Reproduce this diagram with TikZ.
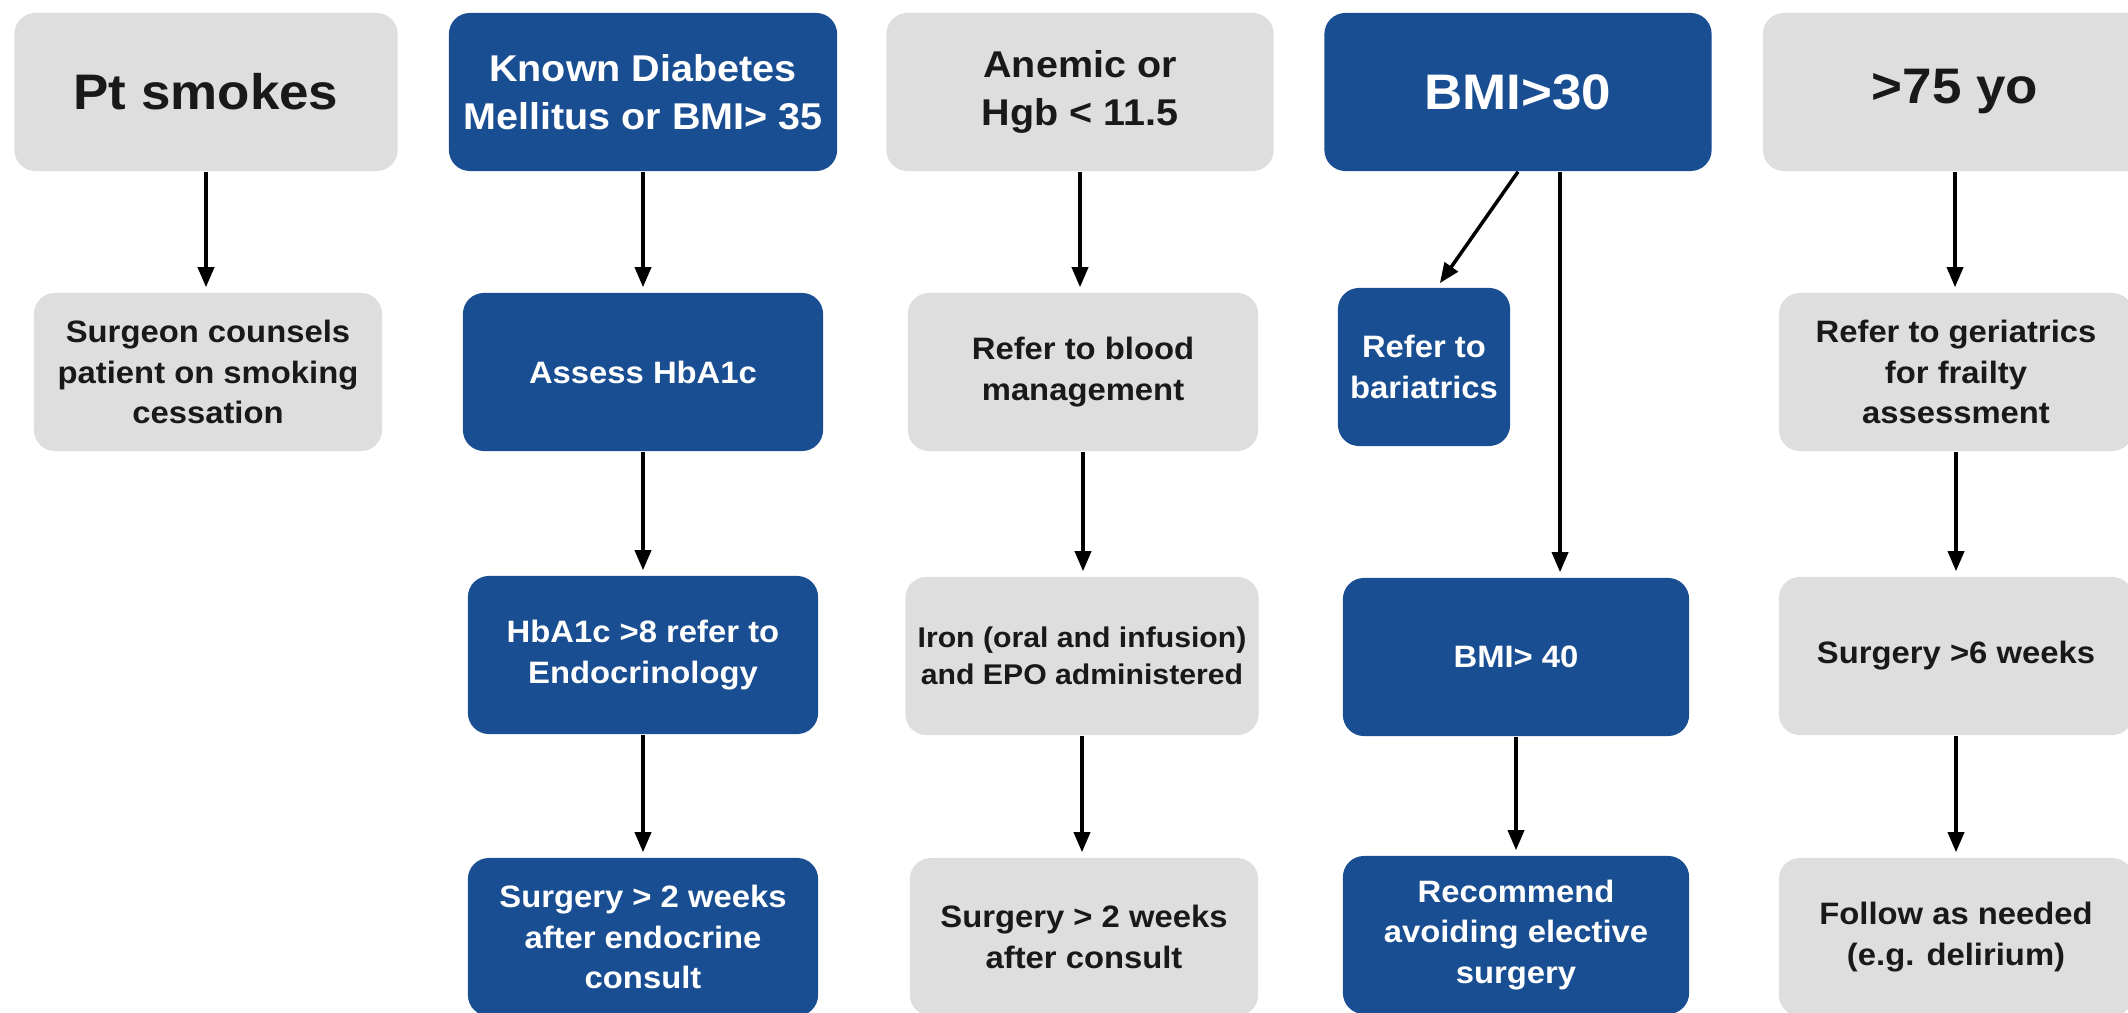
\documentclass[tikz,border=0pt]{standalone}
\usepackage{fontspec}
\usetikzlibrary{arrows.meta}
\newfontfamily\hfont{Liberation Sans}[FakeStretch=1.06]
\newcommand\myTitleFont{\hfont\bfseries\fontsize{14.2}{17}\selectfont}
\newcommand\myHeadFont{\hfont\bfseries\fontsize{10.6}{13.66}\selectfont}
\newcommand\myBodyFont{\hfont\bfseries\fontsize{8.8}{11.6}\selectfont}
\newcommand\myIronFont{\hfont\bfseries\fontsize{8.1}{10.45}\selectfont}
\definecolor{boxblue}{RGB}{26,78,146}
\definecolor{boxgrey}{RGB}{222,222,222}
\definecolor{textdark}{RGB}{25,25,25}
\tikzset{
  box/.style={rounded corners=0.21cm, minimum height=1.58cm, align=center, inner sep=0pt},
  greybox/.style={box, fill=boxgrey, text=textdark},
  bluebox/.style={box, fill=boxblue, text=white},
  arr/.style={line width=1pt, draw=black, -{Triangle[length=0.2cm,width=0.16cm]}, shorten >=0.05cm},
}
\begin{document}
\begin{tikzpicture}[x=0.01cm, y=-0.01cm]
\useasboundingbox (0,0) rectangle (2128,1013);
\clip (0,0) rectangle (2128,1013);
\fill[white] (0,0) rectangle (2128,1013);

% Row 1
\node[greybox, minimum width=3.83cm, font=\myTitleFont] (ps) at (206,92) {Pt smokes};
\node[bluebox, minimum width=3.88cm, font=\myHeadFont] (dm) at (643,92) {Known Diabetes\\Mellitus or BMI> 35};
\node[greybox, minimum width=3.87cm, font=\myHeadFont] (an) at (1080,92) {Anemic or\\Hgb < 11.5};
\node[bluebox, minimum width=3.87cm, font=\myTitleFont] (b30) at (1518,92) {BMI>30};
\node[greybox, minimum width=3.84cm, font=\myTitleFont] (age) at (1955,92) {>75 yo};

% Row 2
\node[greybox, minimum width=3.48cm, font=\myBodyFont] (sc) at (208,372) {Surgeon counsels\\patient on smoking\\cessation};
\node[bluebox, minimum width=3.60cm, font=\myBodyFont] (ha) at (643,372) {Assess HbA1c};
\node[greybox, minimum width=3.50cm, font=\myBodyFont] (rb) at (1083,372) {Refer to blood\\management};
\node[bluebox, minimum width=1.72cm, font=\myBodyFont] (bar) at (1424,367) {Refer to\\bariatrics};
\node[greybox, minimum width=3.54cm, font=\myBodyFont] (ger) at (1956,372) {Refer to geriatrics\\for frailty\\assessment};

% Row 3
\node[bluebox, minimum width=3.50cm, font=\myBodyFont] (h8) at (643,655) {HbA1c >8 refer to\\Endocrinology};
\node[greybox, minimum width=3.53cm, font=\myIronFont] (ir) at (1082,656) {Iron (oral and infusion)\\and EPO administered};
\node[bluebox, minimum width=3.46cm, font=\myBodyFont] (b40) at (1516,657) {BMI> 40};
\node[greybox, minimum width=3.54cm, font=\myBodyFont] (s6) at (1956,656) {Surgery >6 weeks};

% Row 4
\node[bluebox, minimum width=3.50cm, font=\myBodyFont] (se) at (643,937) {Surgery > 2 weeks\\after endocrine\\consult};
\node[greybox, minimum width=3.48cm, font=\myBodyFont] (sa) at (1084,937) {Surgery > 2 weeks\\after consult};
\node[bluebox, minimum width=3.46cm, font=\myBodyFont] (rec) at (1516,935) {Recommend\\avoiding elective\\surgery};
\node[greybox, minimum width=3.54cm, font=\myBodyFont] (fol) at (1956,937) {Follow as needed\\(e.g. delirium)};

% Arrows
\draw[arr] (ps.south) -- (ps.south |- sc.north);
\draw[arr] (dm.south) -- (dm.south |- ha.north);
\draw[arr] (ha.south) -- (ha.south |- h8.north);
\draw[arr] (h8.south) -- (h8.south |- se.north);
\draw[arr] (an.south) -- (an.south |- rb.north);
\draw[arr] (rb.south) -- (rb.south |- ir.north);
\draw[arr] (ir.south) -- (ir.south |- sa.north);
\draw[arr] (b30.south) -- ([xshift=0.13cm]bar.north);
\draw[arr] ([xshift=0.42cm]b30.south) -- ([xshift=0.42cm]b30.south |- b40.north);
\draw[arr] (b40.south) -- (b40.south |- rec.north);
\draw[arr] (age.south) -- (age.south |- ger.north);
\draw[arr] (ger.south) -- (ger.south |- s6.north);
\draw[arr] (s6.south) -- (s6.south |- fol.north);
\end{tikzpicture}
\end{document}
